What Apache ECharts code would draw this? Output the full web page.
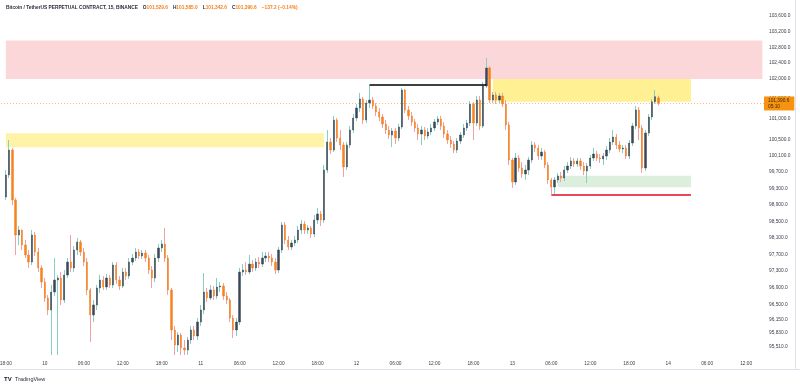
<!DOCTYPE html>
<html><head><meta charset="utf-8">
<script src="https://cdn.jsdelivr.net/npm/echarts@6/dist/echarts.min.js"></script>
<style>html,body{margin:0;padding:0;background:#fff}#c{width:800px;height:384px}</style>
</head><body><div id="c"></div>
<script>
// ---- time slots (30-minute candles) ----
const startDay = 9;
const startMinutes = 17 * 60 + 30;
const slotMinutes = 30;
const slotCount = 235;
const firstDataSlot = 1;

// ---- candles: [open, close, low, high] ----
const ohlc = [
[99088,99624,99015,99747],[99624,100238,99551,100484],[100238,99015,98893,100287],[99015,98167,97685,99064],
[98167,98287,97926,98384],[98287,97926,97805,98300],[97926,97685,97613,98046],[97685,97517,97374,97805],
[97517,98167,97445,98287],[98167,97757,97661,98239],[97757,97374,97278,97854],[97374,97040,96897,97445],
[97040,96660,96565,97135],[96660,96375,96256,96731],[96375,96802,95315,96968],[96802,97087,96707,97613],
[97087,97135,95315,97206],[97135,96612,96494,97278],[96612,97206,96541,97326],[97206,97517,97135,97613],
[97517,97374,97278,98167],[97374,97805,97278,97902],[97805,97998,97685,98094],[97998,97757,97661,98046],
[97757,97517,97422,97854],[97517,96850,96731,97613],[96850,96256,95620,96897],[96256,96494,96091,96612],
[96494,96897,96375,96968],[96897,97087,96778,97206],[97087,96921,96850,97183],[96921,97135,96850,97230],
[97135,96968,96897,97206],[96968,97445,96897,97517],[97445,97087,96992,97517],[97087,96945,96850,97183],
[96945,97278,96897,97374],[97278,97183,97087,97374],[97183,97517,97111,97613],[97517,97613,97445,97709],
[97613,97757,97541,97854],[97757,97661,97589,97830],[97661,97733,97589,97805],[97733,97613,97517,97805],
[97613,97326,97230,97685],[97326,97135,96897,97422],[97135,97613,97040,97709],[97613,97854,97517,97950],
[97854,97950,97757,98046],[97950,97613,97517,98336],[97613,96850,96731,97685],[96850,95903,95667,96897],
[95903,95550,95315,95997],[95550,95785,95386,95855],[95785,95479,95315,95832],[95479,95432,95315,95667],
[95432,95667,95315,95738],[95667,95903,95573,95997],[95903,95761,95667,95997],[95761,96091,95667,96185],
[96091,96375,95997,96494],[96375,96802,96280,97254],[96802,96660,96565,96897],[96660,96850,96612,96968],
[96850,96707,96612,96945],[96707,96921,96636,97135],[96921,96945,96802,97040],[96945,96707,96612,97016],
[96707,96612,96517,96802],[96612,96185,96091,96660],[96185,95903,95714,96256],[95903,96091,95761,96185],
[96091,97278,96020,97374],[97278,97326,97183,97469],[97326,97278,97206,97517],[97278,97469,97230,97685],
[97469,97374,97278,97565],[97374,97517,97302,97613],[97517,97469,97374,97637],[97469,97613,97398,97757],
[97613,97661,97517,97757],[97661,97613,97517,97757],[97613,97517,97422,97709],[97517,97326,97230,97613],
[97326,97805,97254,97878],[97805,98408,97733,98481],[98408,98046,97950,98481],[98046,97878,97805,98143],
[97878,97974,97805,98046],[97974,98046,97902,98143],[98046,98287,97974,98384],[98287,98432,98191,98529],
[98432,98287,98191,98505],[98287,98336,98191,98408],[98336,98191,98094,98384],[98191,98529,98118,98650],
[98529,98675,98432,98821],[98675,98529,98384,98748],[98529,99747,98457,99870],[99747,100435,99674,100732],
[100435,100238,100140,100534],[100238,100979,100189,101079],[100979,100534,100435,101029],[100534,100361,100238,100732],
[100361,99821,99576,100435],[99821,100361,99747,100435],[100361,100732,100287,100831],[100732,101029,100657,101128],
[101029,101278,100954,101377],[101278,101502,101178,101652],[101502,100979,100880,101552],[100979,101402,100905,101477],
[101402,101477,101278,101852],[101477,101328,101253,101552],[101328,101178,101079,101402],[101178,101054,100954,101278],
[101054,100880,100781,101128],[100880,100732,100633,100979],[100732,100608,100509,100831],[100608,100707,100312,100781],
[100707,100534,100386,100781],[100534,100806,100459,100880],[100806,101727,100756,101777],[101727,101228,101153,101752],
[101228,101079,100979,101328],[101079,100930,100831,101178],[100930,100781,100682,101004],[100781,100633,100484,100880],
[100633,100732,100361,100831],[100732,100583,100484,100806],[100583,100682,100509,100781],[100682,100781,100608,100880],
[100781,100930,100707,101004],[100930,101004,100855,101079],[101004,100831,100732,101079],[100831,100633,100534,100930],
[100633,100484,100386,100732],[100484,100386,100287,100583],[100386,100238,100164,100459],[100238,100459,100164,100534],
[100459,100608,100386,100682],[100608,100781,100534,100880],[100781,100905,100707,100979],[100905,101377,100831,101452],
[101377,100905,100484,101427],[100905,101477,100831,101577],[101477,100831,100732,101577],[100831,101827,100781,101927],
[101827,102278,101777,102529],[102278,101477,101402,102328],[101477,101602,101402,101677],[101602,101477,101377,101677],
[101477,101577,101402,101652],[101577,101377,101303,101652],[101377,100855,100732,101477],[100855,99992,99870,100930],
[99992,99453,99307,100041],[99453,100041,99380,100164],[100041,99796,99698,100115],[99796,99649,99551,99943],
[99649,99747,99502,99870],[99747,99992,99624,100066],[99992,100361,99919,100459],[100361,100287,100189,100435],
[100287,100090,99992,100361],[100090,100189,99992,100287],[100189,99870,99796,100238],[99870,99502,99405,99943],
[99502,99332,99161,99551],[99332,99502,99137,99576],[99502,99600,99429,99674],[99600,99551,99453,99698],
[99551,99747,99478,99845],[99747,99845,99674,99943],[99845,99968,99772,100066],[99968,99894,99821,100041],
[99894,99968,99821,100041],[99968,99845,99747,100041],[99845,99723,99624,99943],[99723,99845,99429,99919],
[99845,100041,99772,100115],[100041,100140,99968,100287],[100140,100041,99968,100213],[100041,100017,99919,100140],
[100017,100090,99870,100164],[100090,100238,99992,100336],[100238,100435,100164,100534],[100435,100558,100361,100732],
[100558,100361,100263,100633],[100361,100263,100189,100459],[100263,100287,100164,100361],[100287,100090,100017,100361],
[100090,100410,100017,100484],[100410,100831,100336,100905],[100831,101228,100756,101328],[101228,100781,100484,101303],
[100781,99796,99674,100855],[99796,100657,99723,100732],[100657,101054,100583,101128],[101054,101430,100979,101500],
[101430,101560,101380,101720],[101529.6,101390.6,101342.6,101585.0]
];

// ---- price scale labels ----
const priceLabels = [103600,103200,102800,102400,102000,101500,101000,100500,100100,99700,99300,98900,98500,98100,97700,97300,96900,96500,96150,95830,95510];
const priceMin = 95292, priceMax = 104000;

// ---- drawn levels / zones: [fromSlot, toSlot, lowPrice, highPrice] ----
const redZone = [1, 234, 102000, 102970];
const yellowLeft = [1, 99, 100305, 100650];
const yellowRight = [151, 212, 101435, 102000];
const greenZone = [171, 212, 99324, 99607];
const supportLine = [169, 212, 99143];
const resistanceLine = [113, 149, 101869];
const lastPrice = 101390.6;
const countdown = '05:10';
const legendName = 'Bitcoin / TetherUS PERPETUAL CONTRACT, 15, BINANCE';
const legendOHLC = [['O','101,529.6'],['H','101,585.0'],['L','101,342.6'],['C','101,390.6']];
const legendChange = '−137.2 (−0.14%)';

// ---- build categories ----
const cats = [];
for (let i = 0; i < slotCount; i++) {
  const t = startMinutes + slotMinutes * i;
  const day = startDay + Math.floor(t / 1440);
  const m = t % 1440;
  cats.push(day + ' ' + String(Math.floor(m / 60)).padStart(2, '0') + ':' + String(m % 60).padStart(2, '0'));
}
const EMPTY = ['-', '-', '-', '-'];
const full = cats.map((_, i) => ohlc[i - firstDataSlot] || EMPTY);
const bodies = full.map(d => d[0] === '-' ? d : [d[0], d[1], Math.min(d[0], d[1]), Math.max(d[0], d[1])]);

const fmtPrice = v => Number(v).toLocaleString('en-US', {minimumFractionDigits: 1, maximumFractionDigits: 1});
const FONT = 'Liberation Sans, Arial, sans-serif';
const ORANGE = '#f57f17';
const UP = '#3d4656', DOWN = '#f5831f', UPWICK = '#86cfc2', DOWNWICK = '#f2a0a4';

function zoneArea(z, color) {
  return [{xAxis: z[0], yAxis: z[2], itemStyle: {color}}, {xAxis: z[1], yAxis: z[3]}];
}

const rich = {n: {fontSize: 4.8, color: '#2a2e39', fontFamily: FONT}, v: {fontSize: 4.8, color: ORANGE, fontFamily: FONT}};
let titleText = '{n|' + legendName + '} ';
legendOHLC.forEach(p => { titleText += '{n|' + p[0] + '}{v|' + p[1] + '} '; });
titleText += '{v|' + legendChange + '}';

const chart = echarts.init(document.getElementById('c'));
chart.setOption({
  animation: false,
  backgroundColor: '#ffffff',
  title: {left: 6, top: 5, padding: 0, text: titleText, textStyle: {rich, lineHeight: 6}},
  grid: {left: 1, right: 36, top: 0, bottom: 28, outerBoundsMode: 'none', containLabel: false},
  xAxis: {
    type: 'category', data: cats, boundaryGap: true,
    axisLine: {show: false}, axisTick: {show: false}, splitLine: {show: false},
    axisLabel: {
      fontSize: 4.8, color: '#3a3e49', fontFamily: FONT, margin: 5, hideOverlap: false,
      interval: (i, v) => { const hm = v.split(' ')[1]; return hm.endsWith(':00') && parseInt(hm) % 6 === 0; },
      formatter: v => { const p = v.split(' '); return p[1] === '00:00' ? p[0] : p[1]; }
    }
  },
  yAxis: {
    type: 'log', logBase: 10, position: 'right', min: priceMin, max: priceMax, scale: true,
    axisLine: {show: false}, axisTick: {show: false}, splitLine: {show: false},
    axisLabel: {customValues: priceLabels, formatter: v => fmtPrice(v), fontSize: 4.8, color: '#3a3e49', fontFamily: FONT, margin: 5}
  },
  series: [
    {
      type: 'line', data: cats.map(() => '-'), z: 1, silent: true,
      markArea: {silent: true, data: [
        zoneArea(redZone, 'rgba(242,54,69,0.2)'),
        zoneArea(yellowLeft, 'rgba(255,228,60,0.45)'),
        zoneArea(yellowRight, 'rgba(255,228,60,0.55)'),
        zoneArea(greenZone, 'rgba(76,175,80,0.2)')
      ]},
      markLine: {silent: true, symbol: 'none', data: [
        {yAxis: lastPrice, lineStyle: {color: 'rgba(245,127,23,0.55)', type: [1, 2], width: 1},
         label: {show: true, position: 'end', distance: 0, formatter: fmtPrice(lastPrice) + '\n' + countdown,
                 backgroundColor: '#f7930f', color: '#3b2a10', fontSize: 4.8, lineHeight: 6, padding: [1, 5, 1, 4], fontFamily: FONT}},
        [{coord: [supportLine[0], supportLine[2]], lineStyle: {color: '#e8475b', width: 2, type: 'solid'}, label: {show: false}},
         {coord: [supportLine[1], supportLine[2]]}],
        [{coord: [resistanceLine[0], resistanceLine[2]], lineStyle: {color: '#000000', width: 1.5, type: 'solid'}, label: {show: false}},
         {coord: [resistanceLine[1], resistanceLine[2]]}]
      ]}
    },
    {
      type: 'candlestick', data: full, barWidth: 0.4, z: 3, silent: true,
      itemStyle: {color: UPWICK, color0: DOWNWICK, borderColor: UPWICK, borderColor0: DOWNWICK, borderWidth: 1}
    },
    {
      type: 'candlestick', data: bodies, barWidth: 1.8, z: 4, silent: true,
      itemStyle: {color: UP, color0: DOWN, borderColor: UP, borderColor0: DOWN, borderWidth: 0.5}
    }
  ],
  graphic: [
    {type: 'line', shape: {x1: 795.5, y1: 0, x2: 795.5, y2: 369}, style: {stroke: '#e0e3eb', lineWidth: 1}, silent: true},
    {type: 'line', shape: {x1: 0, y1: 369.5, x2: 800, y2: 369.5}, style: {stroke: '#e0e3eb', lineWidth: 1}, silent: true},
    {type: 'text', left: 4, top: 373, silent: true,
     style: {text: '{l|TV} {t|TradingView}', rich: {l: {fontSize: 6, fontWeight: 'bold', fill: '#131722', fontFamily: FONT}, t: {fontSize: 5.5, fill: '#2a2e39', fontFamily: FONT}}}}
  ]
});
</script></body></html>
